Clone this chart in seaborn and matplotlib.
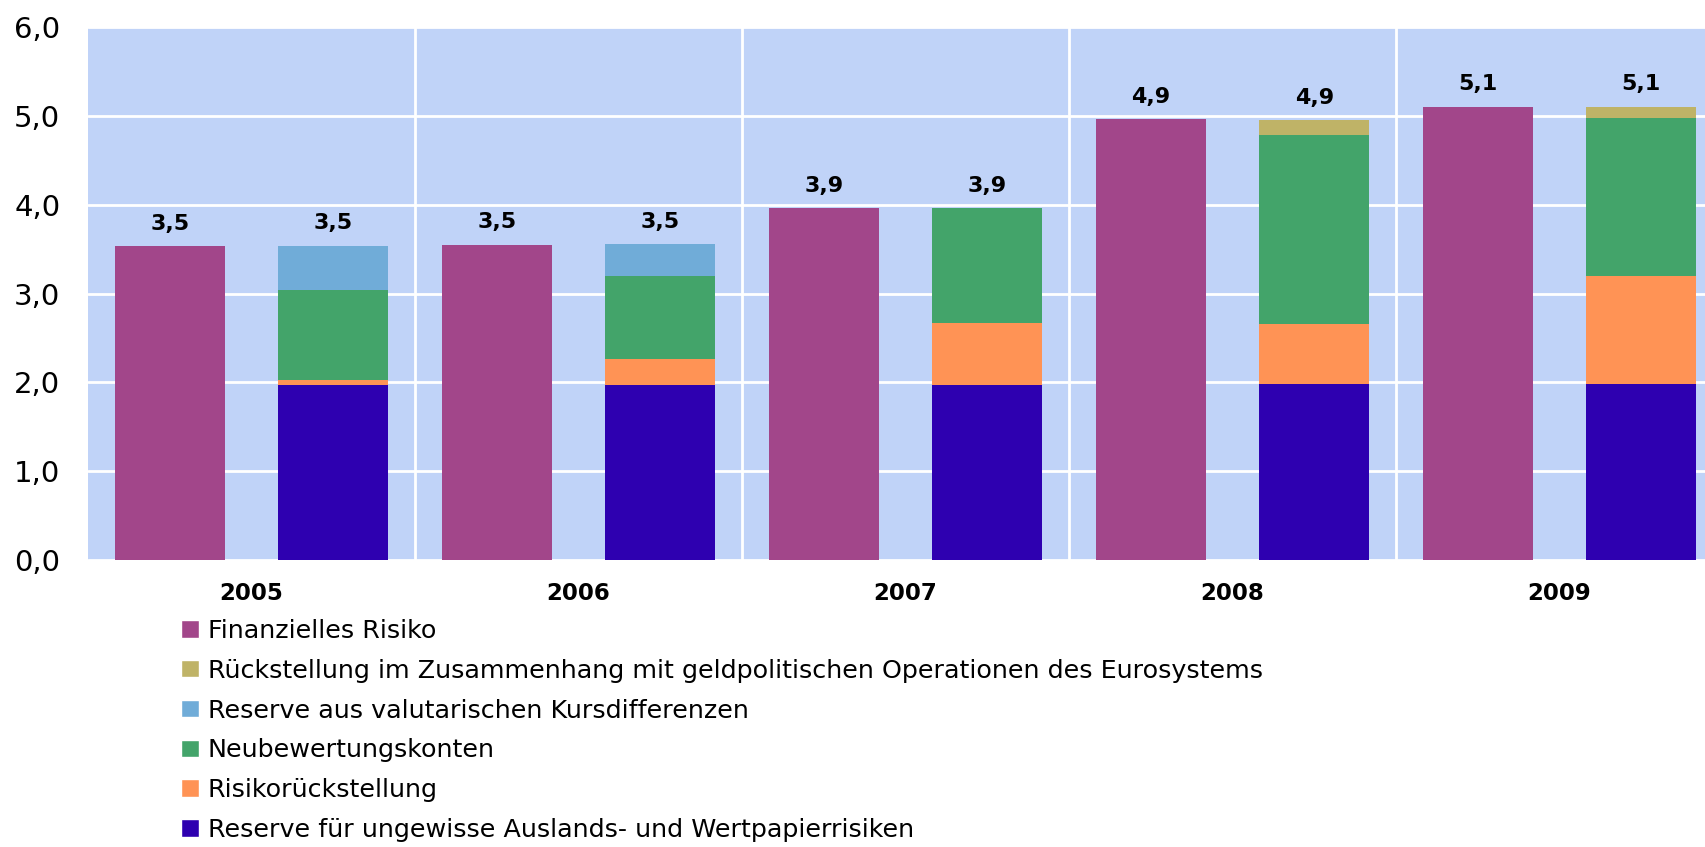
import numpy as np
import pandas as pd
import matplotlib
matplotlib.use("Agg")
import matplotlib.pyplot as plt
from matplotlib.patches import Patch
from matplotlib.ticker import FuncFormatter
import seaborn as sns

jahre = ["2005", "2006", "2007", "2008", "2009"]

# linke Säule
finanzielles_risiko = [3.53, 3.55, 3.96, 4.96, 5.10]

# rechte Säule, von unten nach oben
reserve_ungewiss = [1.97, 1.97, 1.97, 1.985, 1.985]
risikorueckstellung = [0.055, 0.29, 0.70, 0.675, 1.21]
neubewertung = [1.015, 0.935, 1.29, 2.12, 1.78]
reserve_kurs = [0.495, 0.36, 0.0, 0.0, 0.0]
rueckstellung_euro = [0.0, 0.0, 0.0, 0.17, 0.125]

# Beschriftung über den Säulen (links, rechts je Jahr)
summen_labels = ["3,5", "3,5", "3,5", "3,5", "3,9", "3,9", "4,9", "4,9", "5,1", "5,1"]

namen = {
    "fin": "Finanzielles Risiko",
    "euro": "Rückstellung im Zusammenhang mit geldpolitischen Operationen des Eurosystems",
    "kurs": "Reserve aus valutarischen Kursdifferenzen",
    "neu": "Neubewertungskonten",
    "risiko": "Risikorückstellung",
    "ungewiss": "Reserve für ungewisse Auslands- und Wertpapierrisiken",
}
farben = {
    "fin": "#A2468A",
    "euro": "#BFB367",
    "kurs": "#70ACD8",
    "neu": "#43A46A",
    "risiko": "#FF9355",
    "ungewiss": "#2E00B0",
}

sns.set_style("white", {"axes.facecolor": "#C0D3F8", "text.color": "black",
                        "xtick.color": "black", "ytick.color": "black"})
plt.rcParams["font.family"] = ["DejaVu Sans"]

fig = plt.figure(figsize=(17.05, 8.47), dpi=100)
ax = fig.add_axes([88 / 1705, 287 / 847, 1635 / 1705, 533 / 847])

saeulen = ["links", "rechts"]
bar_kws = dict(x="Jahr", y="Wert", hue="Säule", hue_order=saeulen, order=jahre,
               dodge=True, width=1.0, gap=0.33, saturation=1, errorbar=None,
               legend=False, linewidth=0, ax=ax)

# linke Säule
df_links = pd.DataFrame({"Jahr": jahre, "Wert": finanzielles_risiko, "Säule": "links"})
sns.barplot(data=df_links, palette={s: farben["fin"] for s in saeulen}, **bar_kws)

# rechte Säule: kumulierte Summen, von oben nach unten übereinander gezeichnet
stapel = [("ungewiss", reserve_ungewiss), ("risiko", risikorueckstellung),
          ("neu", neubewertung), ("kurs", reserve_kurs), ("euro", rueckstellung_euro)]
kumuliert = np.cumsum([werte for _, werte in stapel], axis=0)
for i in reversed(range(len(stapel))):
    key, werte = stapel[i]
    df = pd.DataFrame({"Jahr": jahre, "Wert": kumuliert[i], "Säule": "rechts"})
    df = df[np.array(werte) > 0]
    sns.barplot(data=df, palette={s: farben[key] for s in saeulen}, **bar_kws)

ax.set_ylim(0, 6)
ax.set_xlim(-0.5, len(jahre) - 0.5)
ax.set_xlabel("")
ax.set_ylabel("")
ax.set_yticks(range(0, 7))
ax.yaxis.set_major_formatter(FuncFormatter(lambda v, p: f"{v:.1f}".replace(".", ",")))
ax.set_xticks(np.arange(0.5, len(jahre) - 0.5), minor=True)
ax.set_axisbelow(True)
ax.grid(axis="y", which="major", color="white", linewidth=2)
ax.grid(axis="x", which="minor", color="white", linewidth=2)
ax.grid(axis="x", which="major", visible=False)
ax.tick_params(axis="y", length=0, pad=20, labelsize=21, labelcolor="black")
ax.tick_params(axis="x", which="both", length=0, pad=16, labelsize=16.5, labelcolor="black")
for lbl in ax.get_xticklabels():
    lbl.set_fontweight("bold")
sns.despine(ax=ax, left=True, bottom=True)

# Summenwerte über den Säulen
spitzen = {}
for p in ax.patches:
    mitte = round(p.get_x() + p.get_width() / 2, 3)
    spitzen[mitte] = max(spitzen.get(mitte, 0), p.get_y() + p.get_height())
for (x, top), text in zip(sorted(spitzen.items()), summen_labels):
    ax.annotate(text, (x, top), xytext=(0, 9), textcoords="offset points",
                ha="center", va="bottom", fontsize=16, fontweight="bold", color="black")

reihenfolge = ["fin", "euro", "kurs", "neu", "risiko", "ungewiss"]
handles = [Patch(facecolor=farben[k], label=namen[k]) for k in reihenfolge]
fig.legend(handles=handles, loc="upper left", bbox_to_anchor=(181 / 1705, 228 / 847),
           frameon=False, fontsize=18.3, borderpad=0, borderaxespad=0,
           handlelength=0.71, handleheight=0.67, handletextpad=0.35, labelspacing=0.62,
           labelcolor="black")

fig.savefig("out.png", dpi=100)
